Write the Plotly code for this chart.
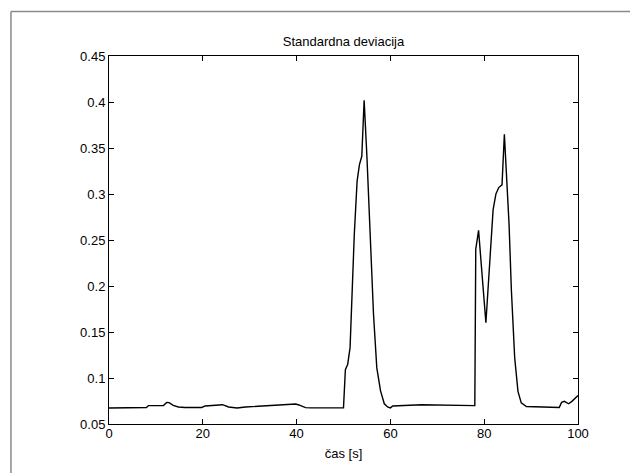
import plotly.graph_objects as go

# time [s] and standard deviation
cas = [0, 8, 8.4, 11.6, 12.3, 12.8, 13.7, 14.8, 16.2, 19.8, 20.5, 22.6, 24.2,
       25.5, 27.3, 29.1, 31.2, 33.4, 36.2, 39.8, 40.5, 41.9, 43, 50,
       50.4, 50.9, 51.4, 52.3, 52.9, 53.4, 53.9, 54.4, 55.0, 55.7, 56.4,
       57.1, 57.9, 58.7, 59.4, 60.0, 60.5, 66.6, 72.3, 78.0,
       78.2, 78.8, 80.36, 81.4, 81.9, 82.5, 83.1, 83.8, 84.3, 85.3, 85.8,
       86.5, 87.2, 87.9, 89, 96, 96.5, 97.1, 98, 98.7, 100]
std_dev = [0.0674, 0.068, 0.070, 0.070, 0.0735, 0.0732, 0.0703, 0.0685, 0.068,
           0.068, 0.0696, 0.0703, 0.071, 0.0685, 0.0674, 0.0685, 0.0692,
           0.0703, 0.071, 0.0717, 0.0707, 0.0678, 0.0675, 0.0675,
           0.109, 0.115, 0.133, 0.256, 0.314, 0.332, 0.341, 0.402, 0.34,
           0.256, 0.169, 0.111, 0.086, 0.072, 0.0685, 0.0675, 0.0696, 0.071,
           0.0707, 0.070,
           0.24, 0.2605, 0.16, 0.249, 0.283, 0.300, 0.307, 0.310, 0.365,
           0.267, 0.195, 0.122, 0.0855, 0.073, 0.069, 0.068, 0.0735, 0.0746,
           0.072, 0.0746, 0.081]

x_ticks = [0, 20, 40, 60, 80, 100]
y_ticks = [0.05, 0.1, 0.15, 0.2, 0.25, 0.3, 0.35, 0.4, 0.45]

FONT = "Liberation Sans, Arial, Helvetica, sans-serif"

fig = go.Figure()
fig.add_trace(go.Scatter(x=cas, y=std_dev, mode="lines",
                         line=dict(color="black", width=1.4),
                         showlegend=False))

axis_common = dict(showgrid=False, zeroline=False, showline=True,
                   linecolor="black", linewidth=1, mirror="ticks",
                   ticks="inside", ticklen=5, tickcolor="black",
                   tickfont=dict(size=13, color="black", family=FONT))

fig.update_layout(
    width=638, height=473,
    margin=dict(l=101, r=68, t=48, b=57),
    paper_bgcolor="white", plot_bgcolor="white",
    font=dict(family=FONT, color="black", size=13),
    title=dict(text="Standardna deviacija", x=0.5, xanchor="center",
               xref="paper", y=1 - 33 / 473, yanchor="middle",
               font=dict(size=13, color="black")),
    xaxis=dict(range=[0, 100], tickvals=x_ticks, ticklabelstandoff=-3,
               title=dict(text="čas [s]", standoff=9,
                          font=dict(size=13, color="black")),
               **axis_common),
    yaxis=dict(range=[0.05, 0.45], tickvals=y_ticks, **axis_common),
    shapes=[
        # window frame (left and top edges)
        dict(type="line", xref="paper", yref="paper",
             x0=-0.209, x1=-0.209, y0=-0.16, y1=1.121,
             line=dict(color="#8a8a8a", width=1.5)),
        dict(type="line", xref="paper", yref="paper",
             x0=-0.209, x1=1.16, y0=1.121, y1=1.121,
             line=dict(color="#8a8a8a", width=1.5)),
    ],
)

fig.write_html("out.html")
